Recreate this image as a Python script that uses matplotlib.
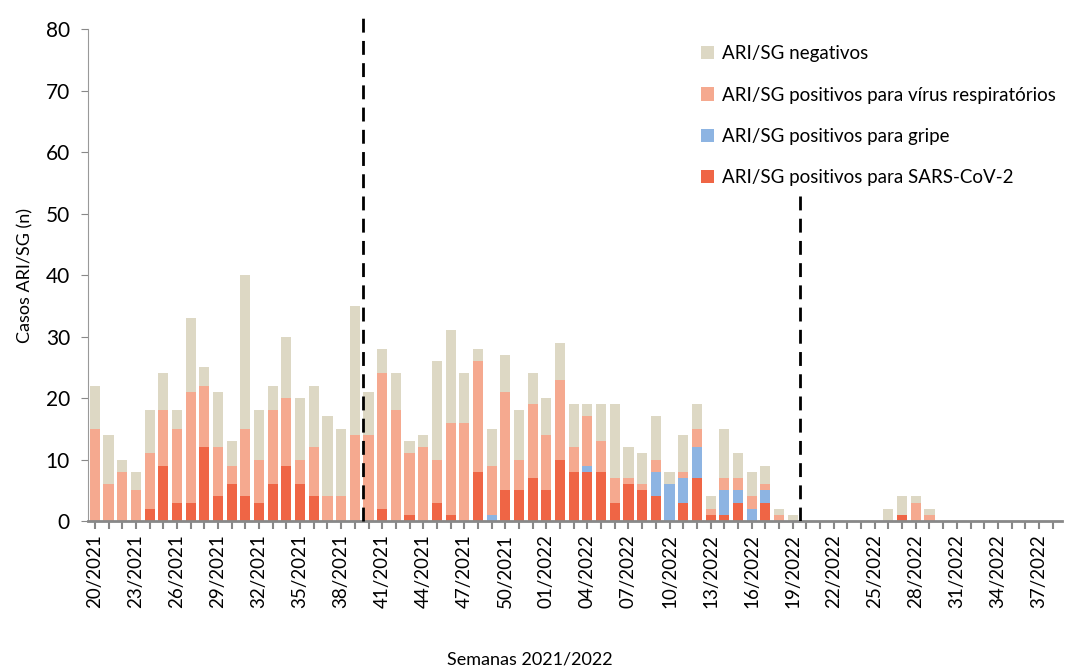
import matplotlib.pyplot as plt
import numpy as np

plt.rcParams['font.family'] = ['Lato', 'DejaVu Sans']

# semanas 20/2021 .. 38/2022
semanas = [f"{w:02d}/2021" for w in range(20, 53)] + [f"{w:02d}/2022" for w in range(1, 39)]

sars = [0, 0, 0, 0, 2, 9, 3, 3, 12, 4, 6, 4, 3, 6, 9, 6, 4, 0, 0, 0,
        0, 2, 0, 1, 0, 3, 1, 0, 8, 0, 5, 5, 7, 5, 10, 8, 8, 8, 3, 6,
        5, 4, 0, 3, 7, 1, 1, 3, 0, 3, 0, 0, 0, 0, 0, 0, 0, 0, 0, 1,
        0, 0, 0, 0, 0, 0, 0, 0, 0, 0, 0]
gripe = [0, 0, 0, 0, 0, 0, 0, 0, 0, 0, 0, 0, 0, 0, 0, 0, 0, 0, 0, 0,
         0, 0, 0, 0, 0, 0, 0, 0, 0, 1, 0, 0, 0, 0, 0, 0, 1, 0, 0, 0,
         0, 4, 6, 4, 5, 0, 4, 2, 2, 2, 0, 0, 0, 0, 0, 0, 0, 0, 0, 0,
         0, 0, 0, 0, 0, 0, 0, 0, 0, 0, 0]
resp = [15, 6, 8, 5, 9, 9, 12, 18, 10, 8, 3, 11, 7, 12, 11, 4, 8, 4, 4, 14,
        14, 22, 18, 10, 12, 7, 15, 16, 18, 8, 16, 5, 12, 9, 13, 4, 8, 5, 4, 1,
        1, 2, 0, 1, 3, 1, 2, 2, 2, 1, 1, 0, 0, 0, 0, 0, 0, 0, 0, 0,
        3, 1, 0, 0, 0, 0, 0, 0, 0, 0, 0]
negativos = [7, 8, 2, 3, 7, 6, 3, 12, 3, 9, 4, 25, 8, 4, 10, 10, 10, 13, 11, 21,
             7, 4, 6, 2, 2, 16, 15, 8, 2, 6, 6, 8, 5, 6, 6, 7, 2, 6, 12, 5,
             5, 7, 2, 6, 4, 2, 8, 4, 4, 3, 1, 1, 0, 0, 0, 0, 0, 0, 2, 3,
             1, 1, 0, 0, 0, 0, 0, 0, 0, 0, 0]

x = np.arange(len(semanas))
fig = plt.figure(figsize=(10.67, 6.70), dpi=100)
ax = fig.add_axes([0.0825, 0.2224, 0.913, 0.734])

c_neg = '#DDD8C4'
c_resp = '#F5A98F'
c_gripe = '#8DB4E2'
c_sars = '#EF6545'
w = 0.74

b1 = np.array(sars)
b2 = b1 + np.array(gripe)
b3 = b2 + np.array(resp)
h_sars = ax.bar(x, sars, w, color=c_sars, label='ARI/SG positivos para SARS-CoV-2')
h_gripe = ax.bar(x, gripe, w, bottom=b1, color=c_gripe, label='ARI/SG positivos para gripe')
h_resp = ax.bar(x, resp, w, bottom=b2, color=c_resp, label='ARI/SG positivos para vírus respiratórios')
h_neg = ax.bar(x, negativos, w, bottom=b3, color=c_neg, label='ARI/SG negativos')

# linhas verticais tracejadas
ax.plot([19.6, 19.6], [0, 81.8], color='black', lw=2, ls=(0, (5, 3)), clip_on=False, zorder=3)
ax.plot([51.55, 51.55], [0, 54.5], color='black', lw=2, ls=(0, (5, 3)), zorder=3)

ax.set_xlim(-0.5, len(semanas) - 0.3)
ax.set_ylim(0, 80)
ax.set_yticks(range(0, 81, 10))
ax.set_xticks(x)
ax.set_xticklabels([s if i % 3 == 0 else '' for i, s in enumerate(semanas)], rotation=90, fontsize=13.5)
ax.tick_params(axis='y', labelsize=15, color='#888888', length=5, pad=8)
ax.tick_params(axis='x', color='#888888', length=6, width=1.5)
for s in ['top', 'right']:
    ax.spines[s].set_visible(False)
ax.spines['left'].set_color('#999999')
ax.spines['bottom'].set_color('#888888')
ax.spines['bottom'].set_linewidth(2)

ax.set_ylabel('Casos ARI/SG (n)', fontsize=13, labelpad=9)
fig.text(0.497, 0.008, 'Semanas 2021/2022', ha='center', fontsize=13)

leg = ax.legend(handles=[h_neg, h_resp, h_gripe, h_sars], loc='upper left',
                bbox_to_anchor=(0.643, 0.955), bbox_transform=fig.transFigure,
                fontsize=13.5, frameon=True, facecolor='white', edgecolor='none',
                framealpha=1, handlelength=0.7, handleheight=0.7, handletextpad=0.4,
                labelspacing=1.3, borderpad=0.3)
leg.set_zorder(5)

plt.savefig('out.png')
